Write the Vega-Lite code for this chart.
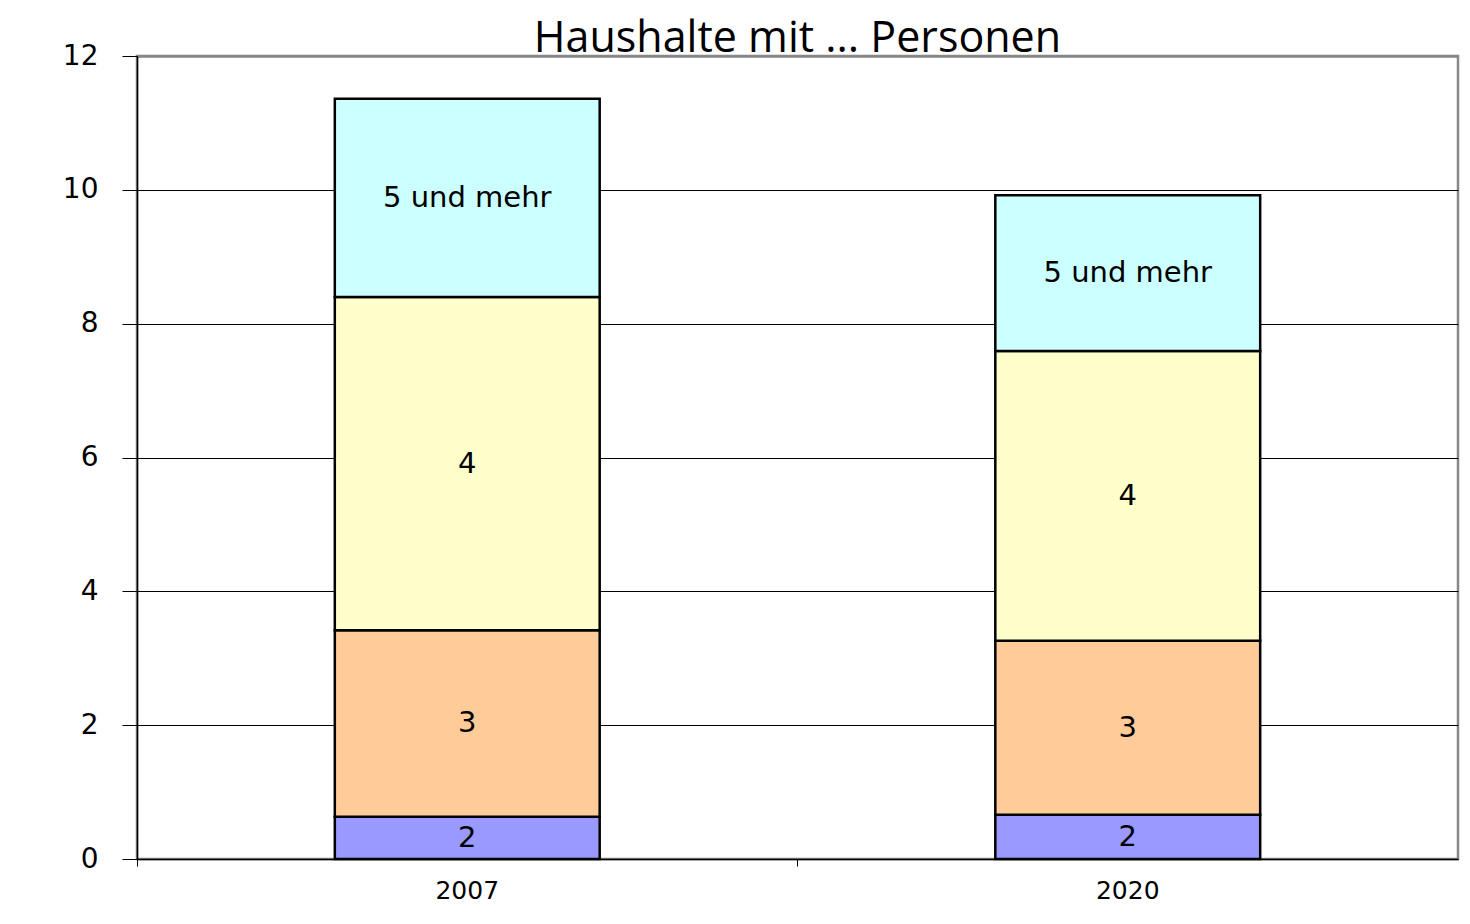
{
  "$schema": "https://vega.github.io/schema/vega-lite/v6.json",
  "autosize": {"type": "none"},
  "width": 1321,
  "height": 803,
  "padding": {"left": 137, "top": 56, "right": 12, "bottom": 65},
  "background": "white",
  "title": {"text": "Haushalte mit ... Personen", "font": "Open Sans", "fontSize": 43, "fontWeight": "normal", "color": "black", "anchor": "middle", "frame": "group", "baseline": "alphabetic", "offset": 0, "dy": 53},
  "config": {"view": {"stroke": "#888888", "strokeWidth": 2.5}},
  "data": {"values": [
    {"year": "2007", "group": "2", "value": 0.63, "order": 1},
    {"year": "2007", "group": "3", "value": 2.79, "order": 2},
    {"year": "2007", "group": "4", "value": 4.98, "order": 3},
    {"year": "2007", "group": "5 und mehr", "value": 2.96, "order": 4},
    {"year": "2020", "group": "2", "value": 0.66, "order": 1},
    {"year": "2020", "group": "3", "value": 2.60, "order": 2},
    {"year": "2020", "group": "4", "value": 4.33, "order": 3},
    {"year": "2020", "group": "5 und mehr", "value": 2.33, "order": 4}
  ]},
  "transform": [
    {"stack": "value", "groupby": ["year"], "sort": [{"field": "order"}], "as": ["lo", "hi"]},
    {"calculate": "(datum.lo + datum.hi) / 2", "as": "mid"}
  ],
  "encoding": {
    "x": {"field": "year", "type": "nominal", "title": null,
      "scale": {"paddingInner": 0, "paddingOuter": 0},
      "axis": {"bandPosition": 0, "labelOffset": 0, "labelAngle": 0, "labelFont": "DejaVu Sans", "labelFontSize": 25, "labelColor": "black", "labelPadding": 12, "tickSize": 7, "tickColor": "black", "tickWidth": 1, "domainColor": "black", "domainWidth": 1.5, "grid": false}}
  },
  "layer": [
    {
      "mark": {"type": "bar", "width": {"band": 0.401}, "stroke": "black", "strokeWidth": 2.5},
      "encoding": {
        "y": {"field": "lo", "type": "quantitative", "title": null,
          "scale": {"domain": [0, 12], "nice": false},
          "axis": {"values": [0, 2, 4, 6, 8, 10, 12], "format": "d", "labelFont": "DejaVu Sans", "labelFontSize": 28, "labelColor": "black", "labelPadding": 24, "tickSize": 15, "tickColor": "black", "tickWidth": 1, "domainColor": "black", "domainWidth": 1.5,
            "grid": true,
            "gridColor": {"condition": {"test": "datum.value == 12", "value": "#888888"}, "value": "black"},
            "gridWidth": {"condition": {"test": "datum.value == 12", "value": 2.5}, "value": 1}}},
        "y2": {"field": "hi"},
        "color": {"field": "group", "type": "nominal", "legend": null,
          "scale": {"domain": ["2", "3", "4", "5 und mehr"], "range": ["#9999ff", "#ffcc99", "#ffffcc", "#ccffff"]}}
      }
    },
    {
      "mark": {"type": "text", "font": "DejaVu Sans", "fontSize": 29, "color": "black", "align": "center", "baseline": "middle"},
      "encoding": {
        "y": {"field": "mid", "type": "quantitative"},
        "text": {"field": "group"}
      }
    }
  ]
}
